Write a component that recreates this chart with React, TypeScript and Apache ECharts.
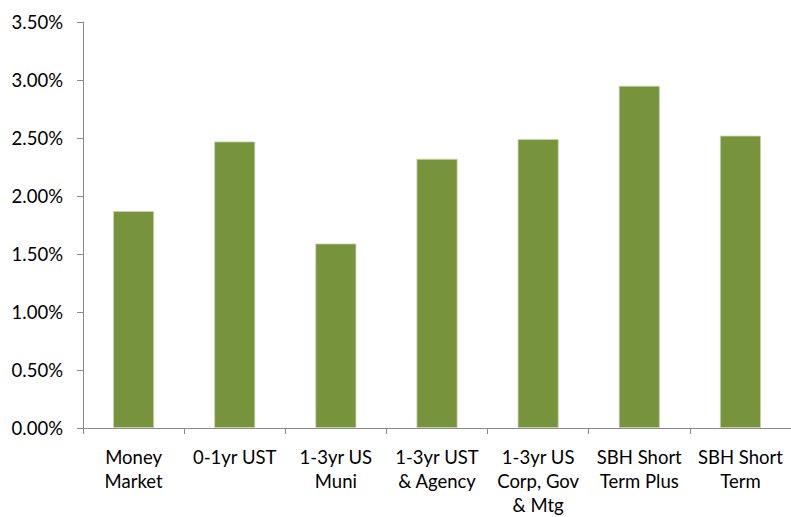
import React, { useEffect, useRef } from "react";
import * as echarts from "echarts";

const categories = [
  "Money\nMarket",
  "0-1yr UST",
  "1-3yr US\nMuni",
  "1-3yr UST\n& Agency",
  "1-3yr US\nCorp, Gov\n& Mtg",
  "SBH Short\nTerm Plus",
  "SBH Short\nTerm",
];
const values = [1.87, 2.47, 1.59, 2.32, 2.49, 2.95, 2.52];
const yTicks = [0, 0.5, 1, 1.5, 2, 2.5, 3, 3.5];

export default function App() {
  const ref = useRef<HTMLDivElement>(null);
  useEffect(() => {
    if (!ref.current) return;
    const chart = echarts.init(ref.current, null, { renderer: "svg" });
    const font = "Lato, 'Open Sans', sans-serif";
    chart.setOption({
      animation: false,
      backgroundColor: "#ffffff",
      grid: { left: 83, right: -3, top: 22, bottom: 89, containLabel: false },
      xAxis: {
        type: "category",
        data: categories,
        boundaryGap: true,
        axisLine: { show: true, lineStyle: { color: "#898989", width: 1 } },
        axisTick: { show: true, length: 6, alignWithLabel: false, lineStyle: { color: "#898989" } },
        axisLabel: {
          interval: 0,
          margin: 17,
          fontFamily: font,
          fontSize: 18.5,
          color: "#000000",
          lineHeight: 24,
        },
      },
      yAxis: {
        type: "value",
        min: yTicks[0],
        max: yTicks[yTicks.length - 1],
        interval: 0.5,
        splitLine: { show: false },
        axisLine: { show: true, lineStyle: { color: "#898989", width: 1 } },
        axisTick: { show: true, length: 6, lineStyle: { color: "#898989" } },
        axisLabel: {
          margin: 20,
          fontFamily: font,
          fontSize: 18.5,
          color: "#000000",
          formatter: (v: number) => v.toFixed(2) + "%",
        },
      },
      series: [
        {
          type: "bar",
          data: values,
          barWidth: 41,
          itemStyle: { color: "#77933C", borderColor: "#c8d4b0", borderWidth: 0.8 },
        },
      ],
    });
    return () => chart.dispose();
  }, []);
  return (
    <div
      ref={ref}
      style={{ position: "fixed", left: 0, top: 0, width: 791, height: 517, background: "#fff" }}
    />
  );
}
